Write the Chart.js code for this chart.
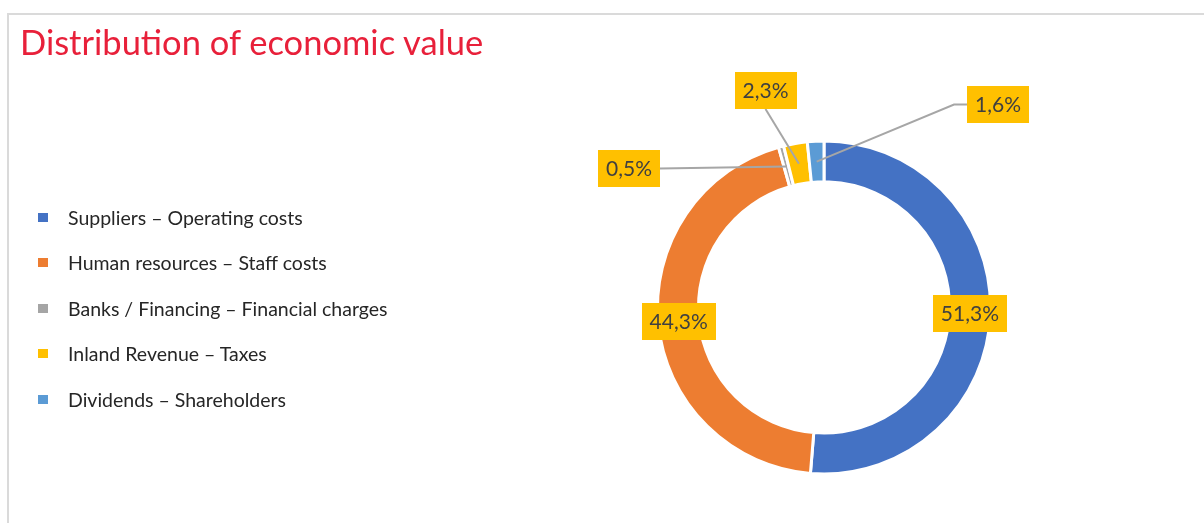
<!DOCTYPE html>
<html>
<head>
<meta charset="utf-8">
<title>Distribution of economic value</title>
<script src="https://cdn.jsdelivr.net/npm/chart.js@4.4.1/dist/chart.umd.min.js"></script>
<style>
body{margin:0;background:#fff;overflow:hidden;font-family:Lato,"Open Sans",sans-serif;}
#marco{position:absolute;left:7px;top:13px;width:1300px;height:600px;border-top:2px solid #dadada;border-left:2px solid #dadada;}
#contenedor{position:absolute;left:0;top:0;width:1204px;height:523px;}
#titulo{position:absolute;left:20px;top:21px;margin:0;font-weight:normal;font-size:34.5px;line-height:1.2;color:#e8203a;white-space:nowrap;}
#leyenda{position:absolute;left:38px;top:0;margin:0;padding:0;list-style:none;}
#leyenda li{position:absolute;left:0;height:22px;display:flex;align-items:center;white-space:nowrap;font-size:19.5px;color:#262626;}
#leyenda span{display:inline-block;width:10px;height:9px;margin-right:20px;}
</style>
</head>
<body>
<div id="marco"></div>
<div id="contenedor"><canvas id="chart"></canvas></div>
<h1 id="titulo">Distribution of economic value</h1>
<ul id="leyenda"></ul>
<script>
var categorias=["Suppliers – Operating costs","Human resources – Staff costs","Banks / Financing – Financial charges","Inland Revenue – Taxes","Dividends – Shareholders"];
var porcentajes=[51.3,44.3,0.5,2.3,1.6];
var colores=["#4472C4","#ED7D31","#A5A5A5","#FFC000","#5B9BD5"];

// etiquetas con fondo amarillo y lineas guia para los sectores pequenos
var pluginEtiquetas={
	id:'etiquetas',
	afterDatasetsDraw:function(chart,args,opts){
		var ctx=chart.ctx;
		var meta=chart.getDatasetMeta(0);
		var valores=chart.data.datasets[0].data;
		var cajas=[];
		ctx.save();
		ctx.font=opts.fuente;
		meta.data.forEach(function(arco,i){
			var p=arco.getProps(['x','y','startAngle','endAngle','innerRadius','outerRadius'],true);
			var medio=(p.startAngle+p.endAngle)/2;
			var r=(p.innerRadius+p.outerRadius)/2;
			var ax=p.x+Math.cos(medio)*r;
			var ay=p.y+Math.sin(medio)*r;
			var texto=valores[i].toFixed(1).replace('.',',')+'%';
			var ancho=ctx.measureText(texto).width+2*opts.padX;
			var alto=opts.alto;
			var cx=ax,cy=ay;
			var d=opts.desplazados[i];
			if(d){
				cx=p.x+d[0];
				cy=p.y+d[1];
				var mx=ancho/2,my=alto/2;
				var puntos=[];
				if(Math.abs(ax-cx)>mx+20){
					var lado=ax>cx?1:-1;
					var sx=cx+lado*mx;
					puntos.push([sx,cy]);
					if(Math.abs(ay-cy)>20) puntos.push([sx+lado*opts.codo,cy]);
				}else{
					puntos.push([cx,ay>cy?cy+my:cy-my]);
				}
				puntos.push([ax,ay]);
				ctx.beginPath();
				ctx.strokeStyle=opts.colorLinea;
				ctx.lineWidth=2;
				ctx.moveTo(puntos[0][0],puntos[0][1]);
				for(var k=1;k<puntos.length;k++) ctx.lineTo(puntos[k][0],puntos[k][1]);
				ctx.stroke();
			}
			cajas.push({x:cx,y:cy,w:ancho,h:alto,t:texto});
		});
		cajas.forEach(function(c){
			ctx.fillStyle=opts.fondo;
			ctx.fillRect(Math.round(c.x-c.w/2),Math.round(c.y-c.h/2),Math.round(c.w),c.h);
			ctx.fillStyle=opts.colorTexto;
			ctx.textAlign='center';
			ctx.textBaseline='middle';
			ctx.fillText(c.t,c.x,c.y+1);
		});
		ctx.restore();
	}
};

function crearLeyenda(){
	var ul=document.getElementById('leyenda');
	for(var i=0;i<categorias.length;i++){
		var li=document.createElement('li');
		li.style.top=(206.5+45.4*i)+'px';
		li.innerHTML="<span style='background:"+colores[i]+"'></span>"+categorias[i];
		ul.appendChild(li);
	}
}

function init(){
	var canvas=document.getElementById('chart').getContext('2d');
	window.dona=new Chart(canvas,{
		type:'doughnut',
		data:{
			labels:categorias,
			datasets:[{
				data:porcentajes,
				backgroundColor:colores,
				borderColor:'#ffffff',
				borderWidth:3
			}]
		},
		options:{
			responsive:true,
			maintainAspectRatio:false,
			animation:false,
			radius:166.5,
			cutout:'75.4%',
			layout:{padding:{left:444,top:92,right:0,bottom:0}},
			plugins:{
				legend:{display:false},
				tooltip:{enabled:false},
				etiquetas:{
					fuente:'21px Lato',
					padX:8,
					alto:37,
					codo:13,
					fondo:'#FFC000',
					colorTexto:'#404040',
					colorLinea:'#A6A6A6',
					desplazados:{2:[-195,-139],3:[-58.5,-217],4:[174,-203]}
				}
			}
		},
		plugins:[pluginEtiquetas]
	});
	crearLeyenda();
}

init();
</script>
</body>
</html>
